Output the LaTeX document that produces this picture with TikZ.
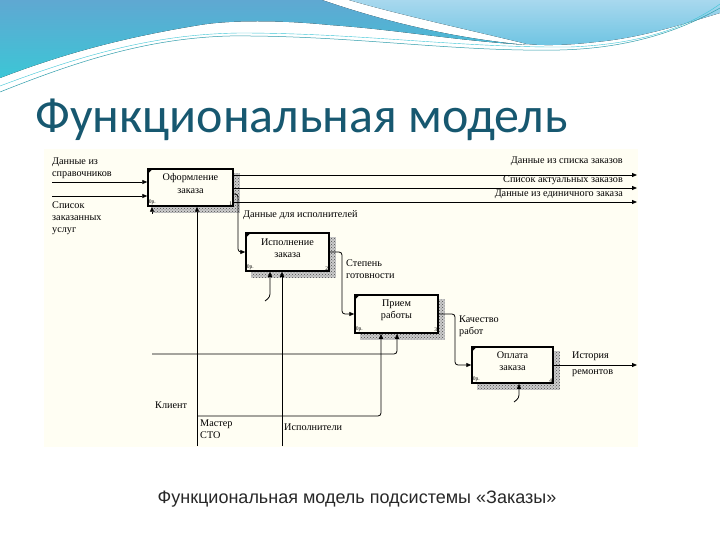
\documentclass[tikz,border=0pt]{standalone}
\usepackage{fontspec}
\setmainfont{Liberation Serif}
\newfontfamily\titlefont{Carlito}
\newfontfamily\capfont{Liberation Sans}
\usetikzlibrary{arrows.meta,patterns,calc}
\pgfdeclarelayer{bg}
\pgfdeclarelayer{shadowl}
\pgfsetlayers{bg,shadowl,main}
\definecolor{titlec}{RGB}{23,88,112}
\definecolor{cream}{RGB}{255,254,243}
\definecolor{hblue}{RGB}{95,168,210}
\definecolor{hcyan}{RGB}{60,198,214}
\definecolor{hlight}{RGB}{168,216,238}
\definecolor{hlight2}{RGB}{110,196,226}
\definecolor{capc}{RGB}{40,40,40}
\tikzset{
  fbox/.style={draw, line width=1.5pt, fill=cream, inner sep=0pt},
  btext/.style={font=\fontsize{10.2}{12.5}\selectfont, align=center, inner sep=0pt},
  lbl/.style={font=\fontsize{10.2}{12}\selectfont, align=left, inner sep=0pt, anchor=north west},
  rlbl/.style={font=\fontsize{10.2}{12}\selectfont, inner sep=0pt, anchor=north east},
  tinyl/.style={font=\fontsize{5.5}{6}\selectfont, inner sep=1.5pt},
  arr/.style={-{Triangle[length=5pt,width=4pt]}, line width=0.8pt, rounded corners=3pt},
  shade/.style={fill=black!20, postaction={pattern=crosshatch dots, pattern color=black!70}},
}
\begin{document}
\begin{tikzpicture}[x=1pt,y=-1pt]
\useasboundingbox (0,0) rectangle (720,540);
\begin{pgfonlayer}{bg}
  \fill[white] (0,0) rectangle (720,540);
  % header waves
  \fill[top color=hblue, bottom color=hcyan]
    (0,0) -- (322,0) .. controls (380,20) and (450,38) .. (527,45)
    .. controls (450,40) and (400,30) .. (330,25)
    .. controls (280,20) and (230,20) .. (200,25)
    .. controls (120,38) and (60,55) .. (0,78) -- cycle;
  \fill[top color=hlight, bottom color=hlight2]
    (349,0) -- (720,0) -- (720,13)
    .. controls (680,25) and (640,38) .. (596,42)
    .. controls (570,45) and (545,46) .. (527,44)
    .. controls (470,30) and (400,15) .. (349,0) -- cycle;
  \draw[hcyan!80!black, line width=0.5pt]
    (0,92) .. controls (80,60) and (150,38) .. (230,36)
    .. controls (350,35) and (450,52) .. (560,50)
    .. controls (640,48) and (690,25) .. (720,8);
  \draw[hcyan, line width=0.4pt]
    (0,86) .. controls (90,52) and (160,34) .. (240,33)
    .. controls (360,33) and (460,48) .. (570,47)
    .. controls (650,44) and (695,22) .. (720,4);
  % diagram background
  \fill[cream] (44,149) rectangle (638,447);
\end{pgfonlayer}

% title
\node[font=\titlefont\fontsize{50}{52}\selectfont, text=titlec, anchor=base west, inner sep=0pt] (title) at (35,133) {Функциональная модель};

% boxes
\node[fbox, minimum width=85pt, minimum height=37pt] (b1) at (190.5,187.5) {};
\node[fbox, minimum width=83pt, minimum height=38pt] (b2) at (287.5,252) {};
\node[fbox, minimum width=83pt, minimum height=38pt] (b3) at (396.5,314) {};
\node[fbox, minimum width=81pt, minimum height=36pt] (b4) at (512.5,365) {};

\begin{pgfonlayer}{shadowl}
  \foreach \b in {b1,b2,b3,b4}{
    \path[shade] ($(\b.north west)+(6,5)$) rectangle ($(\b.south east)+(6,6)$);
  }
\end{pgfonlayer}

\foreach \b/\n in {b1/1,b2/2,b3/3,b4/4}{
  \fill ($(\b.north west)+(0.5,0.5)$) -- ++(5,0) -- ++(-5,5) -- cycle;
  \node[tinyl, anchor=south west] (\b c) at (\b.south west) {0р.};
  \node[tinyl, anchor=south east] (\b n) at (\b.south east) {\n};
}

\node[btext] (t1) at ($(b1.center)+(0,-4)$) {Оформление\\заказа};
\node[btext] (t2) at ($(b2.center)+(0,-4)$) {Исполнение\\заказа};
\node[btext] (t3) at ($(b3.center)+(0,-4)$) {Прием\\работы};
\node[btext] (t4) at ($(b4.center)+(0,-4)$) {Оплата\\заказа};

% inputs of b1
\coordinate (i1) at (52,182);
\coordinate (i2) at (52,196);
\draw[arr] (i1) -- (i1 -| b1.west);
\draw[arr] (i2) -- (i2 -| b1.west);
\node[lbl] (li1) at (52,158) {Данные из\\справочников};
\node[lbl] (li2) at (52,202) {Список\\заказанных\\услуг};

% outputs of b1
\coordinate (o1) at (637,175);
\coordinate (o2) at (637,188);
\coordinate (o3) at (637,202);
\draw[arr] (o1 -| b1.east) -- (o1);
\draw[arr] (o2 -| b1.east) -- (o2);
\draw[arr] (o3 -| b1.east) -- (o3);
\node[rlbl] (lo1) at (623,157) {Данные из списка заказов};
\node[rlbl] (lo2) at (623,176) {Список актуальных заказов};
\node[rlbl] (lo3) at (623,190) {Данные из единичного заказа};

% b1 -> b2
\coordinate (k1) at (238,194);
\draw[arr] (k1 -| b1.east) -- (k1) |- (b2.west);
\node[lbl] (l12) at (243,210) {Данные для исполнителей};

% b2 -> b3
\coordinate (k2) at (342,252);
\draw[arr] (b2.east) -- (k2) |- (b3.west);
\node[lbl] (l23) at (346,260) {Степень\\готовности};

% b3 -> b4
\coordinate (k3) at (455,314);
\draw[arr] (b3.east) -- (k3) |- (b4.west);
\node[lbl] (l34) at (459,316) {Качество\\работ};

% output of b4
\coordinate (o4) at (637,365);
\draw[arr] (b4.east) -- (o4);
\node[lbl] (lo4) at (572,352) {История};
\node[lbl] (lo4b) at (572,369) {ремонтов};

% mechanisms
\coordinate (m0) at (197,446);
\coordinate (mj) at (197,416);
\draw[arr] (m0) -- (m0 |- b1.south);
\draw[arr] (mj) -| ($(b3.south)+(-15.5,0)$);
\node[lbl] (lm) at (200,420) {Мастер\\СТО};

\coordinate (e0) at (282,446);
\draw[arr] (e0) -- (e0 |- b2.south);
\node[lbl] (le) at (284,424) {Исполнители};

\coordinate (c0) at (152,354);
\draw[arr] (c0) -| ($(b3.south)+(0.5,0)$);
\node[lbl] (lc) at (155,402) {Клиент};

% stubs
\coordinate (s1) at (152,214);
\draw[arr] (s1) -- (s1 |- b1.south);
\coordinate (s2) at (265,301);
\draw[arr] (s2) -- ++(5,-4) -- ($(b2.south)+(-17.5,0)$);
\coordinate (s4) at (514,402);
\draw[arr] (s4) -- ++(5,-4) -- ($(b4.south)+(6.5,0)$);

% caption
\node[font=\capfont\fontsize{18}{20}\selectfont, text=capc, anchor=base, inner sep=0pt] (cap) at (357,503) {Функциональная модель подсистемы «Заказы»};
\end{tikzpicture}
\end{document}
